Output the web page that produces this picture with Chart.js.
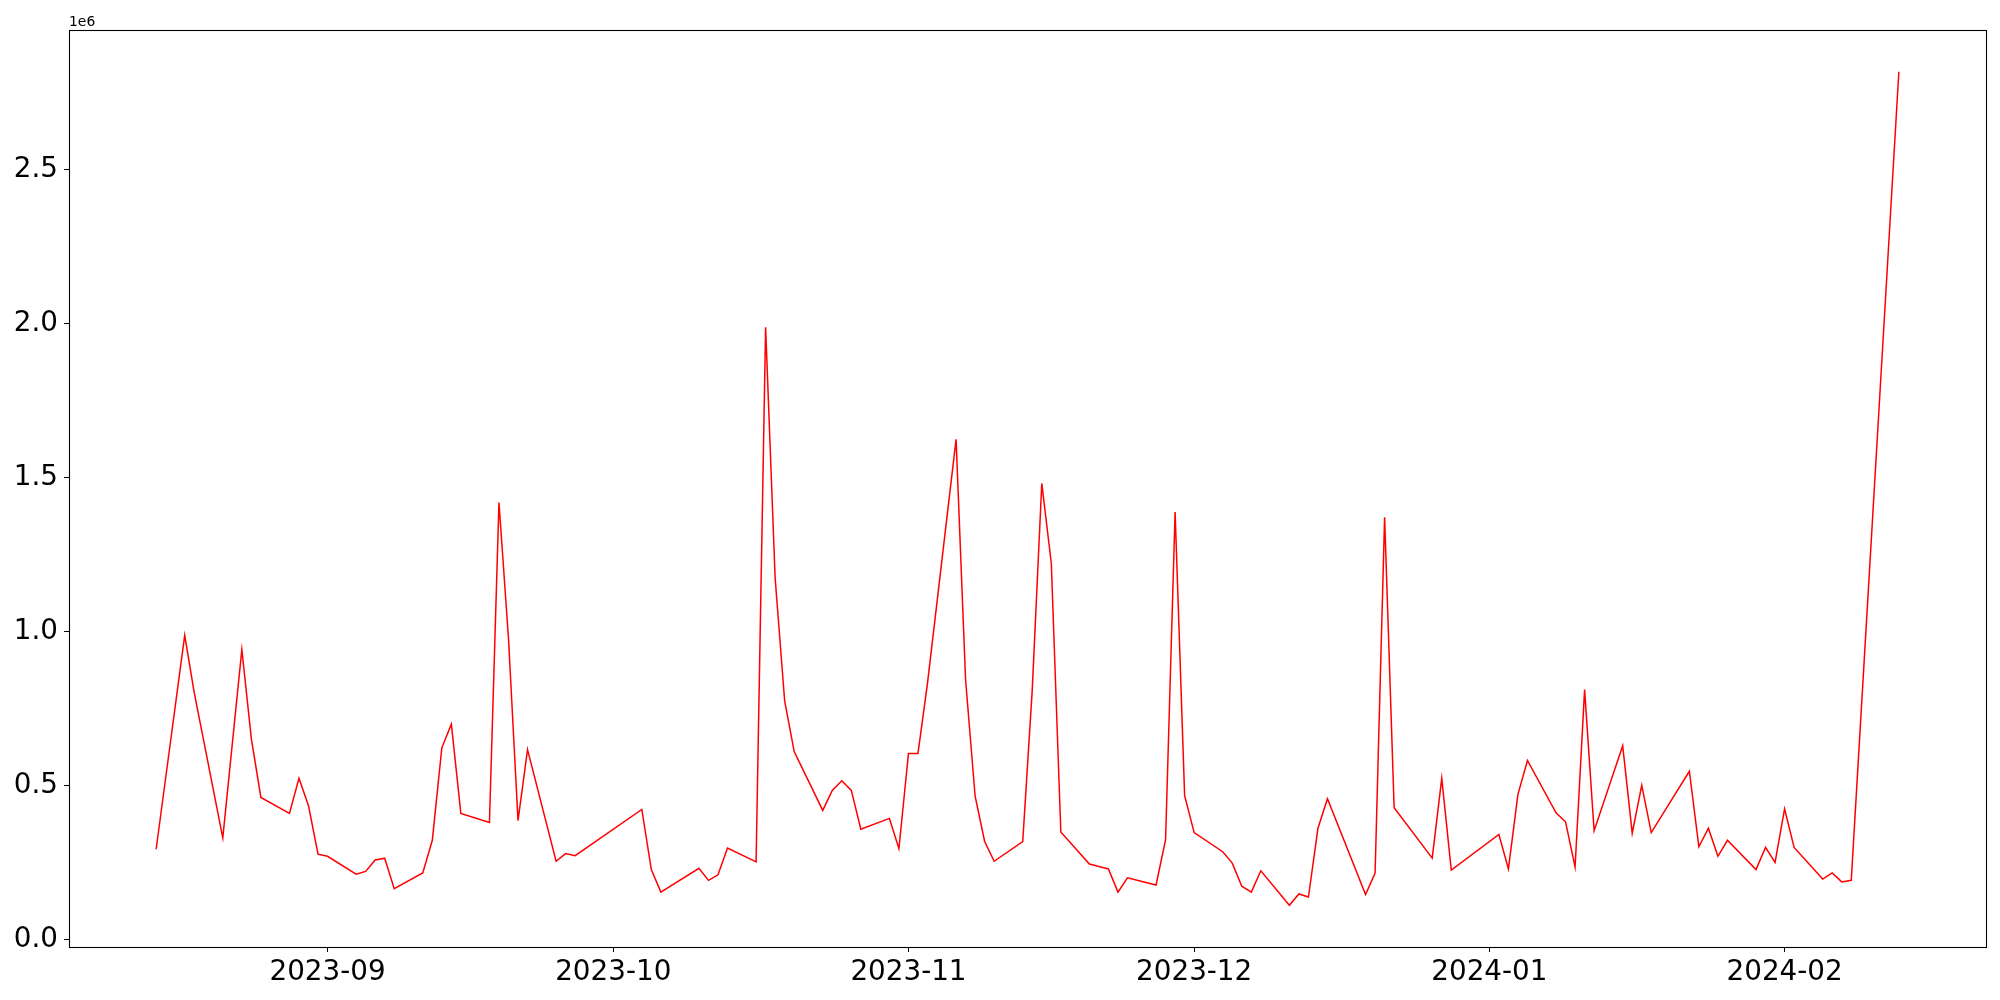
<!DOCTYPE html>
<html>
<head>
<meta charset="utf-8">
<script src="https://cdn.jsdelivr.net/npm/chart.js@4/dist/chart.umd.min.js"></script>
<style>
  html, body { margin: 0; padding: 0; background: #fff; }
  #wrap { width: 2000px; height: 1000px; }
</style>
</head>
<body>
<div id="wrap"><canvas id="c" width="2000" height="1000"></canvas></div>
<script>
// Daily values (trading days only).
const dates = [
  '2023-08-14', '2023-08-17', '2023-08-18', '2023-08-21', '2023-08-23', '2023-08-24', '2023-08-25',
  '2023-08-28', '2023-08-29', '2023-08-30', '2023-08-31', '2023-09-01',
  '2023-09-04', '2023-09-05', '2023-09-06', '2023-09-07', '2023-09-08',
  '2023-09-11', '2023-09-12', '2023-09-13', '2023-09-14', '2023-09-15',
  '2023-09-18', '2023-09-19', '2023-09-20', '2023-09-21', '2023-09-22',
  '2023-09-25', '2023-09-26', '2023-09-27',
  '2023-10-04', '2023-10-05', '2023-10-06',
  '2023-10-10', '2023-10-11', '2023-10-12', '2023-10-13',
  '2023-10-16', '2023-10-17', '2023-10-18', '2023-10-19', '2023-10-20',
  '2023-10-23', '2023-10-24', '2023-10-25', '2023-10-26', '2023-10-27',
  '2023-10-30', '2023-10-31', '2023-11-01', '2023-11-02', '2023-11-03',
  '2023-11-06', '2023-11-07', '2023-11-08', '2023-11-09', '2023-11-10',
  '2023-11-13', '2023-11-14', '2023-11-15', '2023-11-16', '2023-11-17',
  '2023-11-20', '2023-11-21', '2023-11-22', '2023-11-23', '2023-11-24',
  '2023-11-27', '2023-11-28', '2023-11-29', '2023-11-30', '2023-12-01',
  '2023-12-04', '2023-12-05', '2023-12-06', '2023-12-07', '2023-12-08',
  '2023-12-11', '2023-12-12', '2023-12-13', '2023-12-14', '2023-12-15',
  '2023-12-19', '2023-12-20', '2023-12-21', '2023-12-22',
  '2023-12-26', '2023-12-27', '2023-12-28',
  '2024-01-02', '2024-01-03', '2024-01-04', '2024-01-05',
  '2024-01-08', '2024-01-09', '2024-01-10', '2024-01-11', '2024-01-12',
  '2024-01-15', '2024-01-16', '2024-01-17', '2024-01-18',
  '2024-01-22', '2024-01-23', '2024-01-24', '2024-01-25', '2024-01-26',
  '2024-01-29', '2024-01-30', '2024-01-31', '2024-02-01', '2024-02-02',
  '2024-02-05', '2024-02-06', '2024-02-07', '2024-02-08',
  '2024-02-13'
];

const values = [
  294000, 988000, 802000, 331000, 942000, 652000, 462000,
  410000, 524000, 435000, 278000, 271000,
  213000, 222000, 259000, 265000, 166000,
  217000, 323000, 623000, 700000, 410000,
  381000, 1419000, 978000, 387000, 617000,
  255000, 280000, 273000,
  423000, 228000, 155000,
  232000, 193000, 211000, 298000,
  253000, 1988000, 1174000, 775000, 611000,
  420000, 485000, 516000, 485000, 359000,
  394000, 296000, 605000, 605000, 833000,
  1624000, 843000, 466000, 319000, 255000,
  319000, 812000, 1481000, 1222000, 350000,
  246000, 238000, 230000, 155000, 201000,
  178000, 325000, 1388000, 468000, 348000,
  286000, 249000, 174000, 155000, 224000,
  112000, 149000, 139000, 362000, 458000,
  147000, 217000, 1371000, 429000,
  265000, 524000, 226000,
  342000, 230000, 472000, 582000,
  412000, 383000, 236000, 812000, 354000,
  630000, 346000, 501000, 348000,
  547000, 302000, 362000, 271000, 323000,
  228000, 300000, 251000, 425000, 300000,
  197000, 217000, 188000, 193000,
  2817000
];

// Axis ticks
const monthTicks = ['2023-09', '2023-10', '2023-11', '2023-12', '2024-01', '2024-02'];
const yTicks = [0, 500000, 1000000, 1500000, 2000000, 2500000];

const xs = dates.map(d => Date.parse(d));
const points = xs.map((x, i) => ({ x, y: values[i] }));

// matplotlib-style 5% autoscale margins
const xMin = Math.min(...xs), xMax = Math.max(...xs);
const yMin = Math.min(...values), yMax = Math.max(...values);
const xPad = (xMax - xMin) * 0.05, yPad = (yMax - yMin) * 0.05;

const FONT = { family: '"DejaVu Sans", sans-serif', size: 27.8 };

// Closed box around the plot plus the "1e6" offset label.
const frame = {
  id: 'frame',
  afterDraw(chart) {
    const { ctx, chartArea: a } = chart;
    ctx.save();
    ctx.strokeStyle = '#000';
    ctx.lineWidth = 1.1;
    ctx.strokeRect(Math.round(a.left) + 0.5, Math.round(a.top) + 0.5,
      Math.round(a.right - a.left), Math.round(a.bottom - a.top));
    ctx.fillStyle = '#000';
    ctx.font = '13.9px "DejaVu Sans", sans-serif';
    ctx.textAlign = 'left';
    ctx.textBaseline = 'alphabetic';
    ctx.fillText('1e6', a.left, a.top - 4);
    ctx.restore();
  }
};

new Chart(document.getElementById('c').getContext('2d'), {
  type: 'line',
  data: {
    datasets: [{
      data: points,
      borderColor: '#ff0000',
      borderWidth: 1.5,
      pointRadius: 0,
      tension: 0,
      fill: false
    }]
  },
  options: {
    responsive: false,
    animation: false,
    devicePixelRatio: 1,
    layout: { padding: { top: 30, right: 14, left: 0, bottom: 0 } },
    plugins: { legend: { display: false }, tooltip: { enabled: false } },
    scales: {
      x: {
        type: 'linear',
        min: xMin - xPad,
        max: xMax + xPad,
        afterBuildTicks: s => { s.ticks = monthTicks.map(m => ({ value: Date.parse(m + '-01') })); },
        afterFit: s => { s.height = 53; },
        grid: { drawOnChartArea: false, drawTicks: true, tickLength: 5, color: '#000' },
        border: { display: false },
        ticks: {
          color: '#000', font: FONT, padding: 4, maxRotation: 0, autoSkip: false,
          callback: v => new Date(v).toISOString().slice(0, 7)
        }
      },
      y: {
        min: yMin - yPad,
        max: yMax + yPad,
        afterBuildTicks: s => { s.ticks = yTicks.map(v => ({ value: v })); },
        afterFit: s => { s.width = 69; },
        grid: { drawOnChartArea: false, drawTicks: true, tickLength: 5, color: '#000' },
        border: { display: false },
        ticks: {
          color: '#000', font: FONT, padding: 6,
          callback: v => (v / 1e6).toFixed(1)
        }
      }
    }
  },
  plugins: [frame]
});
</script>
</body>
</html>
